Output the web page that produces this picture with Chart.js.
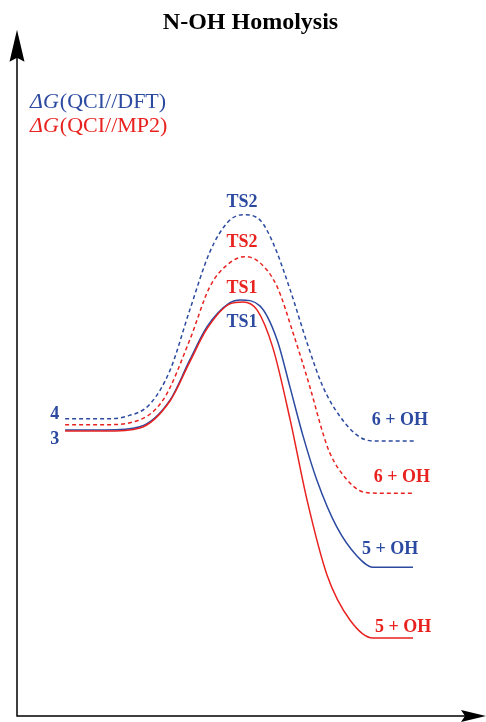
<!DOCTYPE html>
<html>
<head>
<meta charset="utf-8">
<script src="https://cdn.jsdelivr.net/npm/chart.js@4/dist/chart.umd.min.js"></script>
<style>
  html, body { margin: 0; padding: 0; background: #fff; }
  #wrap { width: 486px; height: 722px; position: relative; }
</style>
</head>
<body>
<div id="wrap"><canvas id="chart"></canvas></div>
<script>
// Energy profile, N-OH homolysis (reaction coordinate 0..100, relative energy)
const BLUE = '#2b4aa0';
const RED = '#e8221f';

// DFT path 3 -> TS1 -> 5 + OH
const dftTs1X = [10.3, 18.8, 26.3, 32.8, 37.0, 40.7, 45.6, 47.8, 52.0, 55.7, 58.5, 61.2, 64.2, 68.5, 72.8, 76.2, 84.8];
const dftTs1Y = [0, 0, 0.8, 7.5, 17.5, 25.8, 31.8, 32.5, 31.0, 22.5, 10.5, -1.3, -12.5, -24.3, -31.5, -34.3, -34.3];

// MP2 path 3 -> TS1 -> 5 + OH
const mp2Ts1X = [10.3, 18.8, 26.3, 32.8, 37.0, 40.7, 45.6, 48.4, 51.4, 54.8, 58.5, 62.1, 66.4, 71.3, 76.2, 84.8];
const mp2Ts1Y = [-0.3, -0.3, 0.5, 7.3, 17.0, 25.3, 31.5, 32.0, 30.0, 20.5, 2.5, -17.5, -36.3, -47.5, -52, -52];

// DFT path 4 -> TS2 -> 6 + OH
const dftTs2X = [10.3, 18.8, 23.1, 28.5, 32.8, 37.0, 41.3, 45.2, 48.4, 52.0, 54.8, 58.5, 62.1, 65.5, 69.2, 73.4, 76.9, 85.4];
const dftTs2Y = [2.8, 2.8, 3.3, 6.5, 15.0, 30.0, 44.5, 52.0, 53.8, 52.5, 46.8, 35.0, 21.8, 10.8, 3.3, -1.8, -2.8, -2.8];

// MP2 path 4 -> TS2 -> 6 + OH
const mp2Ts2X = [10.3, 18.8, 24.2, 31.3, 37.0, 41.3, 45.6, 48.8, 52.0, 55.7, 59.1, 62.7, 65.5, 67.0, 70.7, 74.1, 77.3, 84.8];
const mp2Ts2Y = [1.3, 1.3, 1.8, 7.5, 22.5, 35.8, 41.8, 43.3, 41.8, 35.8, 24.3, 10.8, -0.8, -5.8, -12.5, -15.5, -15.8, -15.8];

// species labels: text, colour, x, y
const labelText = ['4', '3', 'TS2', 'TS2', 'TS1', 'TS1', '6 + OH', '6 + OH', '5 + OH', '5 + OH'];
const labelColor = [BLUE, BLUE, BLUE, RED, RED, BLUE, BLUE, RED, BLUE, RED];
const labelX = [8.1, 8.1, 48.2, 48.2, 48.2, 48.2, 82.0, 82.4, 79.9, 82.7];
const labelY = [3.8, -2.3, 57, 46.8, 35.3, 26.8, 2.3, -11.8, -29.8, -49.3];

const legendMethods = ['(QCI//DFT)', '(QCI//MP2)'];
const legendColors = [BLUE, RED];

function toPoints(xs, ys) {
  return xs.map((x, i) => ({ x, y: ys[i] }));
}

function profile(xs, ys, color, dashed) {
  return {
    data: toPoints(xs, ys),
    borderColor: color,
    borderWidth: 1.5,
    borderDash: dashed ? [4, 3] : [],
    pointRadius: 0,
    fill: false,
    cubicInterpolationMode: 'monotone'
  };
}

const SERIF = '"Liberation Serif", "DejaVu Serif", serif';

// arrows for the axes + legend + species labels
const decorations = {
  id: 'decorations',
  afterDraw(chart) {
    const { ctx, chartArea: a, scales } = chart;
    ctx.save();

    // axes
    ctx.strokeStyle = '#000';
    ctx.fillStyle = '#000';
    ctx.lineWidth = 1.5;
    ctx.beginPath();
    ctx.moveTo(a.left, a.top);
    ctx.lineTo(a.left, a.bottom);
    ctx.lineTo(a.right - 10, a.bottom);
    ctx.stroke();

    const tipY = a.top - 10;
    ctx.beginPath();
    ctx.moveTo(a.left, tipY);
    ctx.lineTo(a.left + 7.5, tipY + 32);
    ctx.lineTo(a.left, tipY + 28);
    ctx.lineTo(a.left - 7.5, tipY + 32);
    ctx.closePath();
    ctx.fill();

    const tipX = a.right + 2;
    ctx.beginPath();
    ctx.moveTo(tipX, a.bottom);
    ctx.lineTo(tipX - 25, a.bottom - 6);
    ctx.lineTo(tipX - 21, a.bottom);
    ctx.lineTo(tipX - 25, a.bottom + 6);
    ctx.closePath();
    ctx.fill();

    // legend text
    ctx.textBaseline = 'middle';
    ctx.textAlign = 'left';
    legendMethods.forEach((m, i) => {
      const y = 102 + i * 24;
      ctx.fillStyle = legendColors[i];
      ctx.font = 'italic 22px ' + SERIF;
      ctx.fillText('\u0394G', 30, y);
      const w = ctx.measureText('\u0394G').width;
      ctx.font = '22px ' + SERIF;
      ctx.fillText(m, 30 + w + 1, y);
    });

    // species labels
    ctx.textAlign = 'center';
    ctx.font = 'bold 18px ' + SERIF;
    labelText.forEach((t, i) => {
      ctx.fillStyle = labelColor[i];
      ctx.fillText(t, scales.x.getPixelForValue(labelX[i]), scales.y.getPixelForValue(labelY[i]));
    });
    ctx.restore();
  }
};

new Chart(document.getElementById('chart'), {
  type: 'line',
  data: {
    datasets: [
      profile(mp2Ts2X, mp2Ts2Y, RED, true),
      profile(dftTs2X, dftTs2Y, BLUE, true),
      profile(mp2Ts1X, mp2Ts1Y, RED, false),
      profile(dftTs1X, dftTs1Y, BLUE, false)
    ]
  },
  options: {
    responsive: true,
    maintainAspectRatio: false,
    animation: false,
    layout: { padding: { left: 17, right: 2, top: 0, bottom: 6 } },
    plugins: {
      legend: { display: false },
      tooltip: { enabled: false },
      title: {
        display: true,
        text: 'N-OH Homolysis',
        color: '#000',
        font: { family: SERIF, size: 24, weight: 'bold' },
        padding: { top: 8, bottom: 3 }
      }
    },
    scales: {
      x: { type: 'linear', display: false, min: 0, max: 100 },
      y: { type: 'linear', display: false, min: -71.5, max: 97.5 }
    }
  },
  plugins: [decorations]
});
</script>
</body>
</html>
